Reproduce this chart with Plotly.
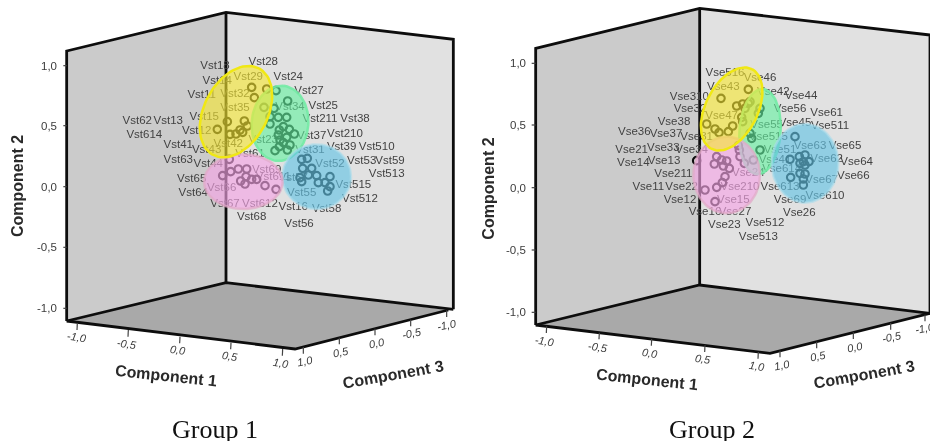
import numpy as np
import plotly.graph_objects as go

# All positions are projected picture units (3 units = 1 px), each panel 1395 x 1323.
G1_YELLOW_X = [755, 763, 800, 792, 652, 682, 733, 742, 690, 708, 720, 728]
G1_YELLOW_Y = [262, 293, 267, 322, 388, 365, 363, 378, 403, 402, 390, 397]
G1_GREEN_X = [828, 863, 822, 810, 835, 860, 810, 850, 868, 883, 838, 835, 860, 840, 870, 850, 825, 838, 862]
G1_GREEN_Y = [272, 303, 325, 350, 352, 352, 372, 380, 388, 402, 390, 405, 412, 420, 435, 428, 452, 440, 450]
G1_BLUE_X = [905, 922, 935, 908, 925, 900, 905, 950, 955, 975, 990, 990, 983]
G1_BLUE_Y = [478, 475, 505, 505, 525, 533, 545, 527, 548, 548, 530, 560, 573]
G1_PINK_X = [688, 668, 692, 715, 740, 738, 722, 735, 755, 770, 795, 828]
G1_PINK_Y = [478, 527, 515, 507, 507, 530, 543, 552, 538, 538, 557, 568]

G2_YELLOW_X = [768, 850, 815, 833, 840, 830, 833, 725, 750, 762, 790, 803]
G2_YELLOW_Y = [295, 268, 318, 312, 325, 352, 365, 372, 387, 398, 395, 378]
G2_GREEN_X = [855, 885, 880, 855, 860, 885, 865, 850]
G2_GREEN_Y = [305, 325, 340, 400, 415, 450, 480, 310]
G2_BLUE_X = [990, 975, 1003, 1020, 1032, 1005, 1015, 1020, 1005, 1020, 1015, 1015, 977]
G2_BLUE_Y = [410, 478, 470, 465, 485, 490, 485, 495, 520, 522, 537, 555, 532]
G2_PINK_X = [820, 823, 825, 838, 755, 748, 770, 785, 775, 793, 780, 772, 755, 720, 750, 695]
G2_PINK_Y = [437, 450, 470, 490, 470, 492, 480, 483, 498, 505, 530, 548, 562, 570, 605, 482]

G1_LABELS = ["Vst18", "Vst28", "Vst29", "Vst24", "Vst14", "Vst11", "Vst32", "Vst27", "Vst35", "Vst25", "Vst34", "Vst15",
             "Vst62", "Vst13", "Vst614", "Vst12", "Vst211", "Vst38", "Vst210", "Vst37", "Vst41", "Vst42", "Vst43",
             "Vst39", "Vst510", "Vst31", "Vst63", "Vst44", "Vst61", "Vst53", "Vst59", "Vst513", "Vst52", "Vst65",
             "Vst66", "Vst64", "Vst515", "Vst55", "Vst512", "Vst67", "Vst612", "Vst16", "Vst58", "Vst68", "Vst56",
             "Vst23", "Vst69", "Vst57", "Vst611"]
G1_LABEL_X = [645, 790, 745, 865, 652, 605, 705, 927, 705, 970, 870, 613,
              412, 505, 433, 590, 960, 1065, 1035, 935, 535, 685, 620,
              1025, 1130, 930, 535, 625, 750, 1085, 1170, 1160, 990, 575,
              665, 580, 1060, 905, 1080, 675, 780, 880, 980, 755, 897,
              790, 800, 880, 820]
G1_LABEL_Y = [198, 185, 230, 230, 242, 285, 283, 272, 325, 318, 320, 350,
              363, 362, 405, 392, 358, 358, 402, 407, 435, 432, 450,
              440, 440, 450, 481, 492, 462, 483, 482, 523, 492, 537,
              565, 578, 555, 578, 597, 612, 612, 622, 628, 652, 672,
              420, 510, 535, 530]

G2_LABELS = ["Vse516", "Vse46", "Vse43", "Vse42", "Vse44", "Vse310", "Vse32", "Vse56", "Vse61", "Vse47", "Vse38", "Vse55",
             "Vse45", "Vse511", "Vse36", "Vse37", "Vse31", "Vse515", "Vse21", "Vse33", "Vse34", "Vse51", "Vse63",
             "Vse65", "Vse14", "Vse13", "Vse41", "Vse62", "Vse64", "Vse211", "Vse614", "Vse66", "Vse24", "Vse67",
             "Vse11", "Vse22", "Vse210", "Vse613", "Vse610", "Vse12", "Vse15", "Vse69", "Vse16", "Vse27", "Vse26",
             "Vse23", "Vse512", "Vse513"]
G2_LABEL_X = [780, 885, 775, 925, 1008, 673, 675, 975, 1085, 770, 627, 905,
              990, 1095, 508, 603, 695, 910, 500, 595, 680, 945, 1035,
              1140, 505, 597, 930, 1085, 1175, 625, 950, 1165, 850, 1070,
              550, 650, 825, 945, 1080, 645, 805, 975, 720, 810, 1003,
              778, 900, 880]
G2_LABEL_Y = [220, 235, 260, 277, 287, 290, 326, 327, 340, 347, 367, 375,
              368, 378, 397, 403, 410, 412, 450, 445, 450, 450, 438,
              438, 490, 482, 480, 478, 487, 522, 507, 527, 520, 540,
              562, 560, 562, 562, 588, 600, 600, 600, 635, 635, 638,
              675, 670, 710]

# centre x, centre y, semi-major, semi-minor, tilt (deg)
G1_ELLIPSES = {"yellow": (708, 335, 147, 95, 62), "green": (840, 370, 113, 85, 85),
               "blue": (950, 530, 103, 97, 0), "pink": (730, 545, 118, 82, 0)}
G2_ELLIPSES = {"yellow": (800, 327, 134, 78, 63), "green": (885, 395, 128, 62, 86),
               "blue": (1020, 490, 118, 100, 90), "pink": (785, 525, 115, 100, 90)}
FILLS = {"yellow": "rgba(245,230,50,0.62)", "green": "rgba(100,240,160,0.62)",
         "blue": "rgba(100,195,228,0.64)", "pink": "rgba(245,165,230,0.64)"}
EDGES = {"yellow": "rgba(240,232,20,1)", "green": "rgba(115,235,165,0.9)",
         "blue": "rgba(170,220,235,0.6)", "pink": "rgba(225,170,200,0.7)"}

TICK_TEXT_C2 = ["1,0", "0,5", "0,0", "-0,5", "-1,0"]
TICK_TEXT_C1 = ["-1,0", "-0,5", "0,0", "0,5", "1,0"]
TICK_TEXT_C3 = ["1,0", "0,5", "0,0", "-0,5", "-1,0"]

PANELS = [
    dict(ax="x", ay="y", left=[(200, 153), (678, 37), (678, 848), (200, 963)],
         right=[(678, 37), (1360, 118), (1360, 928), (678, 848)],
         floor=[(200, 963), (678, 848), (1345, 930), (885, 1047)],
         pts=[(G1_YELLOW_X, G1_YELLOW_Y), (G1_GREEN_X, G1_GREEN_Y), (G1_BLUE_X, G1_BLUE_Y), (G1_PINK_X, G1_PINK_Y)],
         labels=(G1_LABELS, G1_LABEL_X, G1_LABEL_Y), ell=G1_ELLIPSES,
         c2_y=[197, 377, 560, 742, 925], c2_tick_x=(190, 200), c2_label_x=178,
         c1_tx=[232, 385, 540, 693, 848], c1_ty=[970, 990, 1010, 1028, 1047],
         c3_tx=[910, 1018, 1125, 1232, 1340], c3_ty=[1041, 1013, 986, 959, 931],
         c1_lx=[230, 382, 535, 690, 842], c1_ly=[1012, 1032, 1050, 1068, 1088],
         c3_lx=[915, 1022, 1130, 1237, 1340], c3_ly=[1082, 1057, 1030, 1000, 975],
         t1=(497, 1125), t3=(1180, 1122), t2=(52, 557), group=("Group 1", 645, 1287)),
    dict(ax="x2", ay="y2", left=[(212, 145), (704, 25), (704, 855), (212, 975)],
         right=[(704, 25), (1395, 105), (1395, 940), (704, 855)],
         floor=[(212, 975), (704, 855), (1395, 940), (915, 1060)],
         pts=[(G2_YELLOW_X, G2_YELLOW_Y), (G2_GREEN_X, G2_GREEN_Y), (G2_BLUE_X, G2_BLUE_Y), (G2_PINK_X, G2_PINK_Y)],
         labels=(G2_LABELS, G2_LABEL_X, G2_LABEL_Y), ell=G2_ELLIPSES,
         c2_y=[190, 375, 563, 750, 937], c2_tick_x=(200, 212), c2_label_x=190,
         c1_tx=[245, 403, 560, 720, 880], c1_ty=[979, 998, 1017, 1036, 1056],
         c3_tx=[945, 1055, 1165, 1277, 1380], c3_ty=[1052, 1025, 997, 969, 944],
         c1_lx=[240, 398, 555, 715, 875], c1_ly=[1022, 1042, 1060, 1078, 1097],
         c3_lx=[950, 1058, 1170, 1280, 1380], c3_ly=[1095, 1067, 1040, 1012, 985],
         t1=(547, 1137), t3=(1197, 1122), t2=(68, 567), group=("Group 2", 740, 1287)),
]

fig = go.Figure()
annotations = []
INK = "#0d0d0d"
TXT = "#424242"
LIB = "Liberation Sans"


def poly(p, pts, fill):
    xs = [q[0] for q in pts] + [pts[0][0]]
    ys = [q[1] for q in pts] + [pts[0][1]]
    fig.add_trace(go.Scatter(x=xs, y=ys, xaxis=p["ax"], yaxis=p["ay"], mode="lines", fill="toself",
                             fillcolor=fill, line=dict(color=fill, width=0), hoverinfo="skip"))


def path(p, pts, width=2.8, color=INK):
    fig.add_trace(go.Scatter(x=[q[0] for q in pts], y=[q[1] for q in pts], xaxis=p["ax"], yaxis=p["ay"],
                             mode="lines", line=dict(color=color, width=width), hoverinfo="skip"))


def note(p, text, x, y, size, angle=0, color=TXT, family=LIB, bold=False, xanchor="center"):
    annotations.append(dict(xref=p["ax"], yref=p["ay"], x=x, y=y, text=f"<b>{text}</b>" if bold else text,
                            showarrow=False, textangle=angle, xanchor=xanchor, yanchor="middle",
                            font=dict(size=size, color=color, family=family)))


for p in PANELS:
    poly(p, p["left"], "#cbcbcb")
    poly(p, p["right"], "#e1e1e1")
    poly(p, p["floor"], "#a9a9a9")
    L, R, F = p["left"], p["right"], p["floor"]
    path(p, [L[3], L[0], L[1], R[1], R[2]])
    path(p, [L[2], L[1]])
    path(p, [L[3], L[2], R[2]])
    path(p, [L[3], F[3], F[2]])
    for yy in p["c2_y"]:
        path(p, [(p["c2_tick_x"][0], yy), (p["c2_tick_x"][1], yy)], 1.2, "#444")
    for xx, yy in zip(p["c1_tx"], p["c1_ty"]):
        path(p, [(xx, yy), (xx - 1, yy + 20)], 1.2, "#444")
    for xx, yy in zip(p["c3_tx"], p["c3_ty"]):
        path(p, [(xx, yy), (xx, yy + 20)], 1.2, "#444")
    for t, yy in zip(TICK_TEXT_C2, p["c2_y"]):
        note(p, t, p["c2_label_x"], yy, 11.5, xanchor="right", color="#3c3c3c")
    for t, xx, yy in zip(TICK_TEXT_C1, p["c1_lx"], p["c1_ly"]):
        note(p, f"<i>{t}</i>", xx, yy, 11, angle=9, color="#3c3c3c")
    for t, xx, yy in zip(TICK_TEXT_C3, p["c3_lx"], p["c3_ly"]):
        note(p, f"<i>{t}</i>", xx, yy, 11, angle=-11, color="#3c3c3c")
    note(p, "Component 1", *p["t1"], 16, angle=6, color="#2a2a2a", bold=True)
    note(p, "Component 3", *p["t3"], 16, angle=-10, color="#2a2a2a", bold=True)
    note(p, "Component 2", *p["t2"], 16, angle=-90, color="#2a2a2a", bold=True)
    note(p, p["group"][0], p["group"][1], p["group"][2], 26, color="#111", family="Liberation Serif")

    names, lx, ly = p["labels"]
    fig.add_trace(go.Scatter(x=lx, y=ly, text=names, xaxis=p["ax"], yaxis=p["ay"], mode="text",
                             textposition="middle center", textfont=dict(size=11.5, color=TXT, family=LIB),
                             hoverinfo="skip"))
    for xs, ys in p["pts"]:
        fig.add_trace(go.Scatter(x=xs, y=ys, xaxis=p["ax"], yaxis=p["ay"], mode="markers",
                                 marker=dict(symbol="circle-open", size=7.5, color="#0c0c0c",
                                             line=dict(width=2.1, color="#0c0c0c")), hoverinfo="skip"))
    for name in ["green", "blue", "pink", "yellow"]:
        cx, cy, a, b, tilt = p["ell"][name]
        th = np.linspace(0, 2 * np.pi, 90)
        ang = np.radians(tilt)
        ex = cx + a * np.cos(th) * np.cos(ang) - b * np.sin(th) * np.sin(ang)
        ey = cy - a * np.cos(th) * np.sin(ang) - b * np.sin(th) * np.cos(ang)
        fig.add_trace(go.Scatter(x=ex, y=ey, xaxis=p["ax"], yaxis=p["ay"], mode="lines", fill="toself",
                                 fillcolor=FILLS[name], line=dict(color=EDGES[name], width=2.5),
                                 hoverinfo="skip"))

hidden = dict(visible=False, fixedrange=True)
fig.update_layout(
    width=930, height=441, margin=dict(l=0, r=0, t=0, b=0), showlegend=False,
    paper_bgcolor="white", plot_bgcolor="white", annotations=annotations,
    xaxis=dict(domain=[0, 0.5], range=[0, 1395], **hidden),
    xaxis2=dict(domain=[0.5, 1], range=[0, 1395], **hidden),
    yaxis=dict(domain=[0, 1], range=[1323, 0], **hidden),
    yaxis2=dict(domain=[0, 1], range=[1323, 0], anchor="x2", **hidden),
)
fig.write_html("out.html", config={"displayModeBar": False},
               post_script="document.body.style.margin='0';document.body.style.overflow='hidden';"
                           "document.querySelector('.plot-container').style.filter='blur(0.4px)';")
